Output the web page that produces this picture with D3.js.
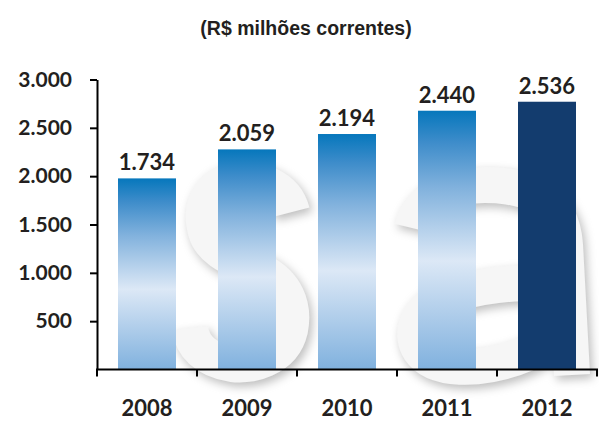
<!DOCTYPE html>
<html>
<head>
<meta charset="utf-8">
<script src="https://cdn.jsdelivr.net/npm/d3@7"></script>
<style>
  body { margin: 0; background: #fff; }
  svg { display: block; }
</style>
</head>
<body>
<svg></svg>
<script>
const years = ["2008", "2009", "2010", "2011", "2012"];
// bar heights as drawn against the axis
const barHeights = [1977, 2277, 2436, 2677, 2770];
// numbers printed above the bars
const valueLabels = [1734, 2059, 2194, 2440, 2536];
const yTicks = [500, 1000, 1500, 2000, 2500, 3000];
const title = "(R$ milhões correntes)";

const size = { w: 599, h: 421 };
const svg = d3.select("svg").attr("width", size.w).attr("height", size.h);
const ink = "#231f20";

const ptBR = d3.formatLocale({ decimal: ",", thousands: ".", grouping: [3], currency: ["R$", ""] });
const fmt = ptBR.format(",d");

const x = d3.scaleBand().domain(years).range([97, 597]).paddingInner(0.42).paddingOuter(0.21);
const y = d3.scaleLinear().domain([0, 3000]).range([369.5, 79.5]);

// gradient for the bars
const defs = svg.append("defs");
const grad = defs.append("linearGradient").attr("id", "barGrad")
  .attr("x1", 0).attr("y1", 0).attr("x2", 0).attr("y2", 1);
[[0, "#0677bc"], [0.12, "#3d8cca"], [0.3, "#82b2dd"], [0.58, "#dce8f6"], [1, "#80b1de"]]
  .forEach(s => grad.append("stop").attr("offset", s[0]).attr("stop-color", s[1]));

const shadow = defs.append("filter").attr("id", "wmShadow")
  .attr("x", "-20%").attr("y", "-20%").attr("width", "140%").attr("height", "140%");
shadow.append("feGaussianBlur").attr("in", "SourceAlpha").attr("stdDeviation", 5).attr("result", "b");
shadow.append("feOffset").attr("in", "b").attr("dx", 3).attr("dy", 4).attr("result", "o");
shadow.append("feFlood").attr("flood-color", "#bdbdbd").attr("result", "c");
shadow.append("feComposite").attr("in", "c").attr("in2", "o").attr("operator", "in").attr("result", "s");
const m = shadow.append("feMerge");
m.append("feMergeNode").attr("in", "s");
m.append("feMergeNode").attr("in", "SourceGraphic");

// watermark logo ("sa"), drawn as thick strokes
const wmShapes = [
  "M292,212 C285,185 255,178 238,180 C210,183 200,205 205,228 C210,255 245,262 262,272 C285,284 295,305 290,330 C283,360 250,366 232,364 C205,360 192,345 190,328",
  "M412,228 C420,195 455,185 485,185 C530,185 562,200 565,245 L572,375",
  "M565,285 C520,280 470,285 440,300 C415,312 410,335 420,350 C435,372 480,370 515,358 C545,348 560,330 565,315"
];
svg.append("g").attr("filter", "url(#wmShadow)")
  .selectAll("path")
  .data(wmShapes)
  .enter()
  .append("path")
  .attr("d", d => d)
  .attr("fill", "none")
  .attr("stroke", "#f6f6f6")
  .attr("stroke-width", 36)
  .attr("stroke-linecap", "butt");

// title
svg.append("text").attr("x", 306).attr("y", 35).attr("text-anchor", "middle")
  .attr("font-family", "Liberation Sans").attr("font-weight", "bold").attr("font-size", 19.5)
  .attr("fill", ink).text(title);

// bars
svg.append("g").selectAll("rect")
  .data(years)
  .enter()
  .append("rect")
  .attr("x", d => x(d))
  .attr("width", x.bandwidth())
  .attr("y", (d, i) => y(barHeights[i]))
  .attr("height", (d, i) => y(0) - y(barHeights[i]))
  .attr("fill", (d, i) => i === years.length - 1 ? "#133c6e" : "url(#barGrad)");

// value labels
svg.append("g").selectAll("text")
  .data(years)
  .enter()
  .append("text")
  .attr("x", d => x(d) + x.bandwidth() / 2)
  .attr("y", (d, i) => y(barHeights[i]) - 8)
  .attr("text-anchor", "middle")
  .attr("font-family", "Lato").attr("font-weight", "bold").attr("font-size", 22)
  .attr("fill", ink)
  .text((d, i) => fmt(valueLabels[i]));

// y axis
const yAxis = svg.append("g").attr("transform", "translate(97,0)")
  .call(d3.axisLeft(y).tickValues(yTicks).tickFormat(fmt).tickSize(7).tickSizeOuter(0).tickPadding(18));
yAxis.select(".domain").attr("stroke", "#000").attr("stroke-width", 2);
yAxis.selectAll(".tick line").attr("stroke", "#000").attr("stroke-width", 2);
yAxis.selectAll(".tick text")
  .attr("font-family", "Lato").attr("font-weight", "bold").attr("font-size", 21).attr("fill", ink);

// x axis
const xAxis = svg.append("g").attr("transform", `translate(0,${y(0)})`)
  .call(d3.axisBottom(x).tickSize(0).tickSizeOuter(0).tickPadding(31));
xAxis.select(".domain").attr("stroke", "#000").attr("stroke-width", 2)
  .attr("d", `M96,0H598`);
xAxis.selectAll(".tick text")
  .attr("font-family", "Lato").attr("font-weight", "bold").attr("font-size", 22).attr("fill", ink);

// boundary ticks between categories
const gap = (x.step() - x.bandwidth()) / 2;
const bounds = years.map(d => x(d) - gap).concat([x(years[years.length - 1]) + x.bandwidth() + gap]);
xAxis.selectAll(".bound")
  .data(bounds)
  .enter()
  .append("line")
  .attr("class", "bound")
  .attr("x1", d => d).attr("x2", d => d)
  .attr("y1", 0).attr("y2", 7)
  .attr("stroke", "#000").attr("stroke-width", 2);
</script>
</body>
</html>
